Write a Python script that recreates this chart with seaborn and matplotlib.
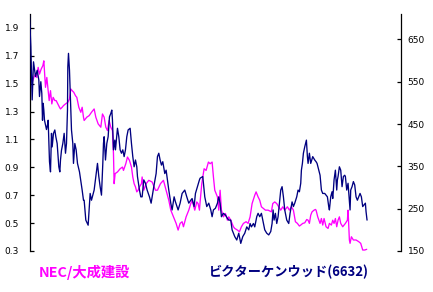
import matplotlib
matplotlib.use("Agg")
import matplotlib.pyplot as plt
import seaborn as sns
import pandas as pd

# ---- data ----
victor_days = [0, 2, 4, 8, 12, 18, 23, 28, 30, 34, 37, 39, 41, 43, 45, 48, 51, 54, 56, 58, 60, 63, 66, 68, 72, 76, 79, 83, 88, 91, 93, 96, 100, 104, 108, 111, 114, 115, 117, 120, 122, 124, 126, 130, 132, 136, 140, 144, 150, 155, 158, 162,
               164, 169, 176, 179, 182, 186, 194, 200, 204, 208, 212, 216, 220, 222, 224, 228, 232, 236, 240, 244, 247, 249, 252, 256, 258, 264, 268, 272, 276, 280, 284, 288, 292, 296, 302, 306, 310, 314, 318, 322, 324, 330, 334,
               338, 343, 348, 353, 360, 365, 373, 380, 384, 388, 392, 396, 400, 406, 410, 414, 418, 424, 428, 434, 438, 446, 452, 458, 466, 472, 478, 484, 488, 494, 498, 504, 510,
               512, 520, 526, 532, 538, 544, 548, 552, 558, 564, 568, 572, 576, 582, 588, 594, 598, 604, 608, 612, 616, 622, 628, 634, 640, 646, 652, 658, 662, 666, 672, 676, 682,
               686, 691, 696, 700, 706, 712, 718, 724, 728, 731, 734, 738, 742, 746, 750, 754, 758, 762, 766, 772, 778, 782, 788, 792, 796, 802, 806, 810, 814, 816, 819, 822, 826, 831, 834, 836, 840, 844, 850, 856,
               860, 863, 868, 872, 876, 880, 886, 890, 894, 898, 900, 902, 904, 908, 910, 912, 914, 918, 922, 924, 926, 930, 934, 938, 942, 946, 948, 952, 956, 960, 962, 964, 968, 972, 976, 980, 984, 988, 992, 996, 1000, 1004, 1008, 1010, 1013]
victor_price = [708, 672, 633, 507, 597, 562, 577, 554, 515, 550, 522, 459, 499, 483, 459, 448, 437, 448, 459, 412, 361, 337, 428, 396, 428, 436, 420, 404, 349, 337, 365, 388, 404, 428, 381, 404, 483, 585, 617, 577, 530, 483, 436, 404, 357, 404, 389, 357, 337, 310, 294, 270,
                270, 223, 211, 247, 286, 270, 294, 333, 357, 326, 302, 282, 357, 404, 420, 365, 404, 420, 467, 475, 483, 459, 389, 412, 389, 440, 420, 389, 381, 389, 373, 389, 420, 436, 440, 404, 373, 349, 365, 349, 326, 294, 278,
                278, 318, 310, 294, 278, 263, 302, 333, 373, 381, 365, 353, 361, 333, 341, 318, 294, 263, 247, 278, 266, 247, 263, 286, 294, 278, 263, 270, 274, 255, 286, 302, 318,
                322, 326, 278, 255, 263, 247, 231, 247, 251, 263, 278, 263, 231, 239, 235, 227, 223, 223, 200, 192, 184, 176, 192, 168, 184, 192, 207, 200, 215, 207, 215, 207, 231,
                239, 231, 239, 223, 200, 192, 188, 196, 215, 247, 223, 239, 215, 231, 263, 294, 302, 278, 247, 223, 215, 239, 266, 255, 263, 278, 294, 290, 310, 341, 357, 381, 396, 412, 373, 357, 381, 357, 373, 365,
                361, 357, 341, 329, 294, 286, 286, 282, 278, 255, 247, 263, 278, 290, 274, 294, 318, 341, 294, 318, 326, 349, 341, 302, 326, 329, 326, 294, 310, 270, 247, 294, 302, 314, 306, 278, 270, 278, 286, 278, 255, 259, 263, 243, 223]

ratio_days = [0, 2, 8, 13, 18, 22, 26, 30, 35, 40, 43, 48, 52, 56, 59, 63, 67, 71, 76, 80, 85, 90, 93, 98, 102, 108, 115, 120, 124, 128, 133, 138, 142, 148, 154, 158, 162,
              164, 172, 179, 186, 194, 199, 206, 214, 219, 224, 229, 234, 239, 244, 249, 252, 254, 257, 264, 272, 279, 282, 289, 294, 300, 306, 310, 314, 318, 322, 326, 330, 336,
              338, 343, 350, 358, 368, 378, 384, 393, 402, 410, 418, 424, 432, 440, 446, 452, 458, 462, 470, 478, 484, 488, 496, 502, 506, 510,
              512, 517, 524, 530, 537, 542, 548, 552, 556, 564, 568, 572, 576, 582, 588, 594, 598, 604, 612, 616, 624, 630, 636, 642, 650, 656, 662, 668, 676, 680,
              686, 691, 696, 702, 708, 716, 726, 730, 736, 742, 748, 754, 760, 766, 774, 780, 786, 792, 798, 804, 810, 814, 820, 826, 832, 836, 840, 844, 848, 854, 858,
              860, 865, 872, 876, 880, 884, 890, 896, 900, 906, 910, 914, 918, 922, 926, 930, 934, 940, 948, 954, 956, 960, 962, 966, 972, 980, 988, 994, 1000, 1006, 1012]
nec_taisei_ratio = [1.664, 1.593, 1.509, 1.545, 1.569, 1.545, 1.617, 1.569, 1.605, 1.629, 1.664, 1.474, 1.545, 1.450, 1.379, 1.450, 1.355, 1.402, 1.379, 1.379, 1.355, 1.331, 1.319, 1.331, 1.343, 1.355, 1.367, 1.390, 1.462, 1.450, 1.438, 1.414, 1.402, 1.331, 1.295, 1.331, 1.260,
                    1.236, 1.260, 1.271, 1.295, 1.319, 1.260, 1.212, 1.188, 1.283, 1.260, 1.188, 1.164, 1.236, 1.188, 1.164, 0.998, 0.783, 0.855, 0.867, 0.890, 0.902, 0.878, 0.926, 0.974, 0.950, 0.902, 0.831, 0.783, 0.760, 0.724, 0.736, 0.760, 0.783,
                    0.831, 0.736, 0.783, 0.807, 0.795, 0.736, 0.736, 0.783, 0.807, 0.736, 0.664, 0.593, 0.545, 0.498, 0.450, 0.498, 0.510, 0.474, 0.545, 0.593, 0.640, 0.664, 0.593, 0.652, 0.640, 0.593,
                    0.652, 0.783, 0.890, 0.878, 0.938, 0.926, 0.938, 0.831, 0.736, 0.688, 0.593, 0.736, 0.593, 0.545, 0.569, 0.521, 0.545, 0.521, 0.474, 0.462, 0.450, 0.438, 0.474, 0.498, 0.510, 0.498, 0.545, 0.640, 0.700, 0.724,
                    0.688, 0.664, 0.617, 0.605, 0.593, 0.593, 0.581, 0.640, 0.652, 0.640, 0.617, 0.593, 0.617, 0.593, 0.617, 0.593, 0.617, 0.593, 0.510, 0.498, 0.479, 0.486, 0.498, 0.502, 0.526, 0.521, 0.498, 0.557, 0.581, 0.593, 0.598,
                    0.593, 0.545, 0.498, 0.533, 0.486, 0.533, 0.474, 0.462, 0.498, 0.486, 0.521, 0.498, 0.533, 0.474, 0.521, 0.545, 0.498, 0.474, 0.498, 0.521, 0.593, 0.379, 0.355, 0.402, 0.379, 0.379, 0.367, 0.355, 0.307, 0.307, 0.312]

left_ticks = [0.3, 0.5, 0.7, 0.9, 1.1, 1.3, 1.5, 1.7, 1.9]
left_labels = ["0.3", "0.5", "0.7", "0.9", "1.1", "1.3", "1.5", "1.7", "1.9"]
right_ticks = [150, 250, 350, 450, 550, 650]
right_labels = ["150", "250", "350", "450", "550", "650"]
ratio_label = "NEC/大成建設"
victor_label = "ビクターケンウッド(6632)"

MAGENTA = "#FF00FF"
NAVY = "#000080"

df_ratio = pd.DataFrame({"day": ratio_days, "ratio": nec_taisei_ratio})
df_victor = pd.DataFrame({"day": victor_days, "price": victor_price})

sns.set_theme(style="white")
plt.rcParams["font.family"] = ["DejaVu Sans"]

fig = plt.figure(figsize=(4.33, 2.92), dpi=100)
fig.patch.set_facecolor("white")
ax = fig.add_axes([29.5 / 433, 41 / 292, 371.2 / 433, 237 / 292])
ax2 = ax.twinx()

sns.lineplot(data=df_ratio, x="day", y="ratio", ax=ax, color=MAGENTA,
             linewidth=0.95, estimator=None, sort=False)
sns.lineplot(data=df_victor, x="day", y="price", ax=ax2, color=NAVY,
             linewidth=0.95, estimator=None, sort=False)

for a in (ax, ax2):
    a.set_xlim(0, 1114)
    a.set_xticks([])
    a.set_xlabel("")
    a.set_ylabel("")
    a.set_facecolor("none")
    for s in ("top", "bottom"):
        a.spines[s].set_visible(False)
    for s in ("left", "right"):
        a.spines[s].set_color("black")
        a.spines[s].set_linewidth(0.9)

ax.set_ylim(0.3, 2.0)
ax.set_yticks(left_ticks)
ax.set_yticklabels(left_labels)
ax.tick_params(axis="y", direction="in", length=3, width=0.9, labelsize=6.5,
               pad=7.5, colors="black", left=True)
ax.spines["right"].set_visible(False)

ax2.set_ylim(150, 710)
ax2.set_yticks(right_ticks)
ax2.set_yticklabels(right_labels)
ax2.tick_params(axis="y", direction="in", length=3, width=0.9, labelsize=6.5,
                pad=5, colors="black", right=True)
ax2.spines["left"].set_visible(False)

cjk = ["Noto Sans CJK JP", "DejaVu Sans"]
fig.text(84 / 433, 1 - 272 / 292, ratio_label, color=MAGENTA, fontsize=10.3,
         fontweight="bold", ha="center", va="center", family=cjk)
fig.text(288.5 / 433, 1 - 272 / 292, victor_label, color=NAVY, fontsize=9.5,
         fontweight="bold", ha="center", va="center", family=cjk)

fig.savefig("out.png", dpi=100, facecolor="white")
